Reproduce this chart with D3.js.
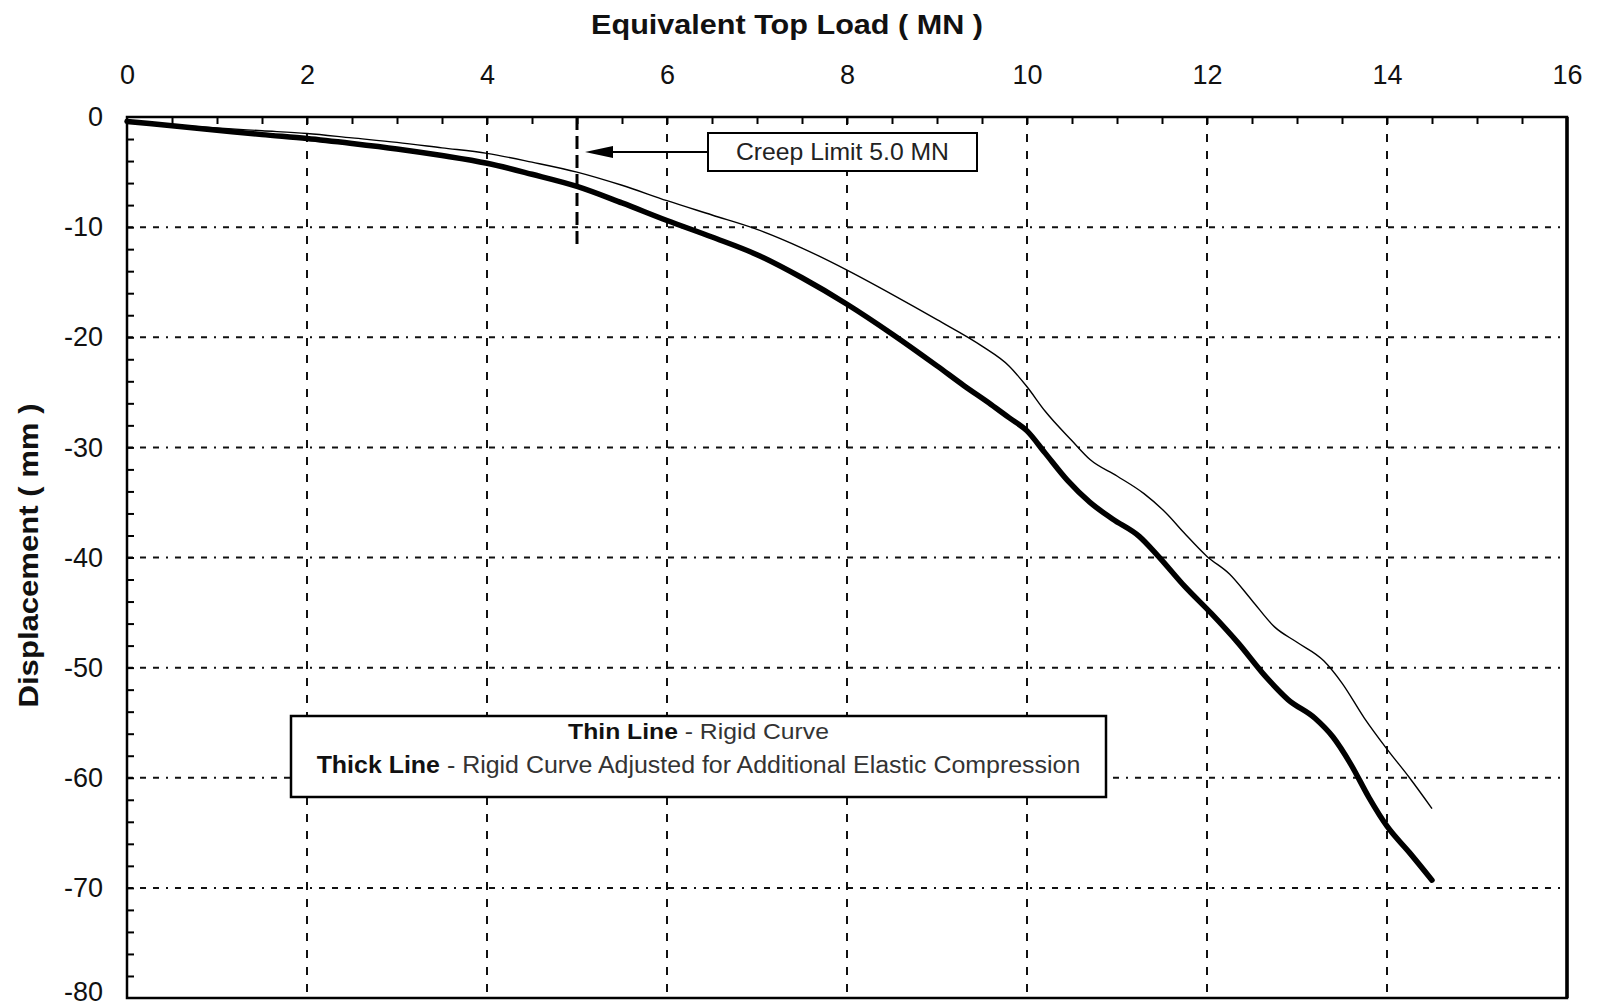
<!DOCTYPE html>
<html>
<head>
<meta charset="utf-8">
<script src="https://cdn.jsdelivr.net/npm/d3@7"></script>
<style>
  html, body { margin: 0; padding: 0; background: #fff; }
  svg { display: block; font-family: "Liberation Sans", Arial, sans-serif; }
</style>
</head>
<body>
<div id="chart"></div>
<script>
const xTicks = [0, 2, 4, 6, 8, 10, 12, 14, 16];
const yTicks = [0, -10, -20, -30, -40, -50, -60, -70, -80];

// thin line - rigid curve
const thinLoad = [0, 0.5, 1, 1.5, 2, 2.5, 3, 3.5, 4, 4.5, 5, 5.5, 6, 6.5, 7, 7.5, 8, 8.5, 9, 9.5, 9.8, 10.0, 10.2, 10.5, 10.7, 11.0, 11.3, 11.55, 11.75, 12.0, 12.25, 12.5, 12.75, 13.0, 13.3, 13.5, 13.75, 14.0, 14.25, 14.5];
const thinDisp = [-0.4, -0.7, -1.0, -1.25, -1.5, -1.9, -2.3, -2.8, -3.3, -4.1, -5.0, -6.2, -7.6, -8.9, -10.2, -11.9, -13.9, -16.1, -18.4, -20.8, -22.6, -24.5, -26.7, -29.4, -31.1, -32.6, -34.2, -36.0, -37.8, -39.9, -41.5, -43.9, -46.3, -47.7, -49.4, -51.4, -54.6, -57.4, -60.0, -62.8];

// thick line - adjusted for additional elastic compression
const thickLoad = [0, 0.5, 1, 1.5, 2, 2.5, 3, 3.5, 4, 4.5, 5, 5.5, 6, 6.5, 7, 7.5, 8, 8.5, 9, 9.3, 9.6, 9.8, 10.0, 10.2, 10.45, 10.7, 10.95, 11.25, 11.45, 11.75, 12.05, 12.35, 12.65, 12.9, 13.2, 13.4, 13.6, 13.8, 14.0, 14.25, 14.5];
const thickDisp = [-0.4, -0.8, -1.2, -1.6, -1.95, -2.4, -2.9, -3.5, -4.2, -5.2, -6.3, -7.8, -9.4, -10.9, -12.5, -14.6, -17.0, -19.7, -22.6, -24.4, -26.1, -27.3, -28.5, -30.5, -33.0, -35.0, -36.5, -38.1, -39.8, -42.6, -45.1, -47.8, -50.8, -52.9, -54.6, -56.3, -58.8, -61.8, -64.4, -66.8, -69.3];

const creepLimit = 5.0;
const creepLineBottom = -12;

const width = 1597;
const height = 1008;
const margin = { top: 117, right: 30, bottom: 10, left: 127 };

const svg = d3.select("#chart").append("svg").attr("width", width).attr("height", height);

const x = d3.scaleLinear().domain([0, 16]).range([margin.left, width - margin.right]);
const y = d3.scaleLinear().domain([-80, 0]).range([height - margin.bottom, margin.top]);

// squeeze/stretch a text horizontally around cx so it covers targetWidth
function fitWidth(textSel, targetWidth, cx) {
  const w = textSel.node().getBBox().width;
  const k = targetWidth / w;
  textSel.attr("transform", `translate(${cx},0) scale(${k},1) translate(${-cx},0)`);
}

// grid
svg.append("g")
  .selectAll("line")
  .data(xTicks.slice(1, -1))
  .join("line")
  .attr("x1", (d) => x(d)).attr("x2", (d) => x(d))
  .attr("y1", y(0)).attr("y2", y(-80))
  .attr("stroke", "#111").attr("stroke-width", 2)
  .attr("stroke-dasharray", "8,9");

svg.append("g")
  .selectAll("line")
  .data(yTicks.slice(1, -1))
  .join("line")
  .attr("x1", x(0)).attr("x2", x(16))
  .attr("y1", (d) => y(d)).attr("y2", (d) => y(d))
  .attr("stroke", "#111").attr("stroke-width", 2)
  .attr("stroke-dasharray", "6,7,6,7,6,7,2,7");

// minor ticks, inward
svg.append("g")
  .attr("transform", `translate(0,${y(0)})`)
  .call(d3.axisTop(x).tickValues(d3.range(0.5, 16, 0.5)).tickSize(-7).tickFormat(""))
  .call((g) => g.select(".domain").remove())
  .call((g) => g.selectAll("line").attr("stroke", "#000").attr("stroke-width", 2));

svg.append("g")
  .attr("transform", `translate(${x(0)},0)`)
  .call(d3.axisLeft(y).tickValues(d3.range(-78, 0, 2)).tickSize(-7).tickFormat(""))
  .call((g) => g.select(".domain").remove())
  .call((g) => g.selectAll("line").attr("stroke", "#000").attr("stroke-width", 2));

// tick labels (plain hyphen for negatives, as in the original)
svg.append("g")
  .attr("transform", `translate(0,${y(0)})`)
  .call(d3.axisTop(x).tickValues(xTicks).tickSize(0).tickPadding(33).tickFormat((d) => String(d)))
  .call((g) => g.select(".domain").remove())
  .call((g) => g.selectAll("text").attr("font-size", 27).attr("fill", "#111")
    .attr("font-family", "'Liberation Sans', Arial, sans-serif"));

svg.append("g")
  .attr("transform", `translate(${x(0)},0)`)
  .call(d3.axisLeft(y).tickValues(yTicks).tickSize(0).tickPadding(24).tickFormat((d) => String(d)))
  .call((g) => g.select(".domain").remove())
  .call((g) => g.selectAll("text").attr("font-size", 27).attr("fill", "#111")
    .attr("font-family", "'Liberation Sans', Arial, sans-serif"))
  .call((g) => g.selectAll("text").filter((d) => d === -80).attr("dy", "0.08em"));

// creep limit marker
svg.append("line")
  .attr("x1", x(creepLimit)).attr("x2", x(creepLimit))
  .attr("y1", y(0)).attr("y2", y(creepLineBottom))
  .attr("stroke", "#000").attr("stroke-width", 3)
  .attr("stroke-dasharray", "13,6");

// curves
const line = d3.line().x((d) => x(d[0])).y((d) => y(d[1])).curve(d3.curveMonotoneX);

svg.append("path")
  .datum(thinLoad.map((v, i) => [v, thinDisp[i]]))
  .attr("d", line)
  .attr("fill", "none").attr("stroke", "#000").attr("stroke-width", 1.4);

svg.append("path")
  .datum(thickLoad.map((v, i) => [v, thickDisp[i]]))
  .attr("d", line)
  .attr("fill", "none").attr("stroke", "#000").attr("stroke-width", 5.5)
  .attr("stroke-linejoin", "round").attr("stroke-linecap", "round");

// creep limit annotation
const cBox = { x0: 708, x1: 977, y0: 133, y1: 171 };
svg.append("line")
  .attr("x1", cBox.x0).attr("x2", 610)
  .attr("y1", 152).attr("y2", 152)
  .attr("stroke", "#000").attr("stroke-width", 2);
svg.append("path")
  .attr("d", `M${x(creepLimit) + 8},152 L${x(creepLimit) + 36},146 L${x(creepLimit) + 36},158 Z`)
  .attr("fill", "#000");
svg.append("rect")
  .attr("x", cBox.x0).attr("y", cBox.y0)
  .attr("width", cBox.x1 - cBox.x0).attr("height", cBox.y1 - cBox.y0)
  .attr("fill", "#fff").attr("stroke", "#000").attr("stroke-width", 2);
const creepText = svg.append("text")
  .attr("x", (cBox.x0 + cBox.x1) / 2).attr("y", 160)
  .attr("text-anchor", "middle").attr("font-size", 24).attr("fill", "#222")
  .text("Creep Limit 5.0 MN");
fitWidth(creepText, 213, (cBox.x0 + cBox.x1) / 2);

// legend box
const lBox = { x0: 291, x1: 1106, y0: 716, y1: 797 };
const lcx = (lBox.x0 + lBox.x1) / 2;
svg.append("rect")
  .attr("x", lBox.x0).attr("y", lBox.y0)
  .attr("width", lBox.x1 - lBox.x0).attr("height", lBox.y1 - lBox.y0)
  .attr("fill", "#fff").attr("stroke", "#000").attr("stroke-width", 2.5);

const leg1 = svg.append("text")
  .attr("x", lcx).attr("y", 739).attr("text-anchor", "middle").attr("font-size", 23);
leg1.append("tspan").attr("font-weight", "bold").attr("fill", "#111").text("Thin Line");
leg1.append("tspan").attr("fill", "#333").text(" - Rigid Curve");
fitWidth(leg1, 261, lcx);

const leg2 = svg.append("text")
  .attr("x", lcx).attr("y", 773).attr("text-anchor", "middle").attr("font-size", 23);
leg2.append("tspan").attr("font-weight", "bold").attr("fill", "#111").text("Thick Line");
leg2.append("tspan").attr("fill", "#333").text(" - Rigid Curve Adjusted for Additional Elastic Compression");
fitWidth(leg2, 764, lcx);

// frame
svg.append("rect")
  .attr("x", x(0)).attr("y", y(0))
  .attr("width", x(16) - x(0)).attr("height", y(-80) - y(0))
  .attr("fill", "none").attr("stroke", "#000").attr("stroke-width", 2.5);
svg.append("line")
  .attr("x1", x(16)).attr("x2", x(16)).attr("y1", y(0)).attr("y2", y(-80))
  .attr("stroke", "#000").attr("stroke-width", 3.5);

// axis titles
const xTitle = svg.append("text")
  .attr("x", 787).attr("y", 34)
  .attr("text-anchor", "middle").attr("font-size", 28).attr("font-weight", "bold").attr("fill", "#111")
  .text("Equivalent Top Load  ( MN )");
fitWidth(xTitle, 392, 787);

const yCenter = (y(0) + y(-80)) / 2;
const yTitle = svg.append("text")
  .attr("x", -(yCenter - 2)).attr("y", 38)
  .attr("transform", "rotate(-90)")
  .attr("text-anchor", "middle").attr("font-size", 28).attr("font-weight", "bold").attr("fill", "#111")
  .text("Displacement  ( mm )");
{
  const w = yTitle.node().getBBox().width;
  const k = 304 / w;
  const cx = -(yCenter - 2);
  yTitle.attr("transform", `rotate(-90) translate(${cx},0) scale(${k},1) translate(${-cx},0)`);
}
</script>
</body>
</html>
